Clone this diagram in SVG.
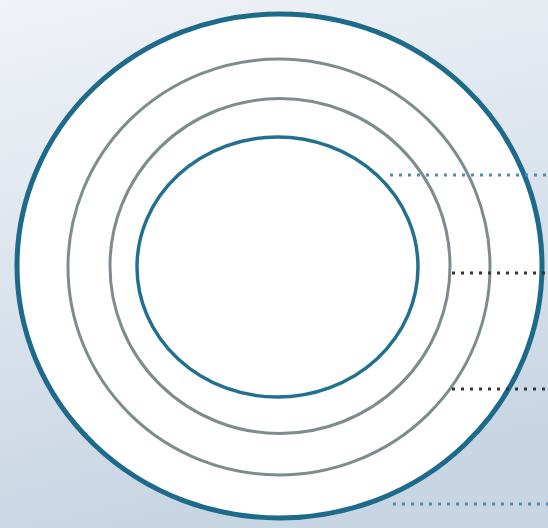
<svg xmlns="http://www.w3.org/2000/svg" width="548" height="528" viewBox="0 0 548 528">
  <defs>
    <linearGradient id="bg" x1="0" y1="0" x2="0.25" y2="1">
      <stop offset="0" stop-color="#f0f3f7"/>
      <stop offset="1" stop-color="#c8d5e3"/>
    </linearGradient>
    <style>
      .outer { fill: #ffffff; stroke: #1d6a8b; stroke-width: 5; }
      .gray { fill: none; stroke: #7e8c8d; stroke-width: 3; }
      .inner { fill: none; stroke: #22708f; stroke-width: 3.5; }
      .dotblue { stroke: #4f8cad; stroke-width: 3; stroke-dasharray: 3 6; fill: none; }
      .dotdark { stroke: #2f363c; stroke-width: 3; stroke-dasharray: 3 6; fill: none; }
    </style>
  </defs>
  <rect x="0" y="0" width="548" height="528" fill="url(#bg)"/>
  <g id="ring-outer"><ellipse class="outer" cx="279.5" cy="266" rx="262.5" ry="252"/></g>
  <g id="ring-2"><ellipse class="gray" cx="279" cy="267" rx="211" ry="208"/></g>
  <g id="ring-3"><ellipse class="gray" cx="280" cy="266" rx="170" ry="167.5"/></g>
  <g id="ring-inner"><ellipse class="inner" cx="277.5" cy="267" rx="140.5" ry="130"/></g>
  <g id="connectors">
    <line class="dotblue" x1="390" y1="175" x2="548" y2="175"/>
    <line class="dotdark" x1="452" y1="273" x2="548" y2="273"/>
    <line class="dotdark" x1="452" y1="389" x2="548" y2="389"/>
    <line class="dotblue" x1="393" y1="504" x2="548" y2="504"/>
  </g>
</svg>
